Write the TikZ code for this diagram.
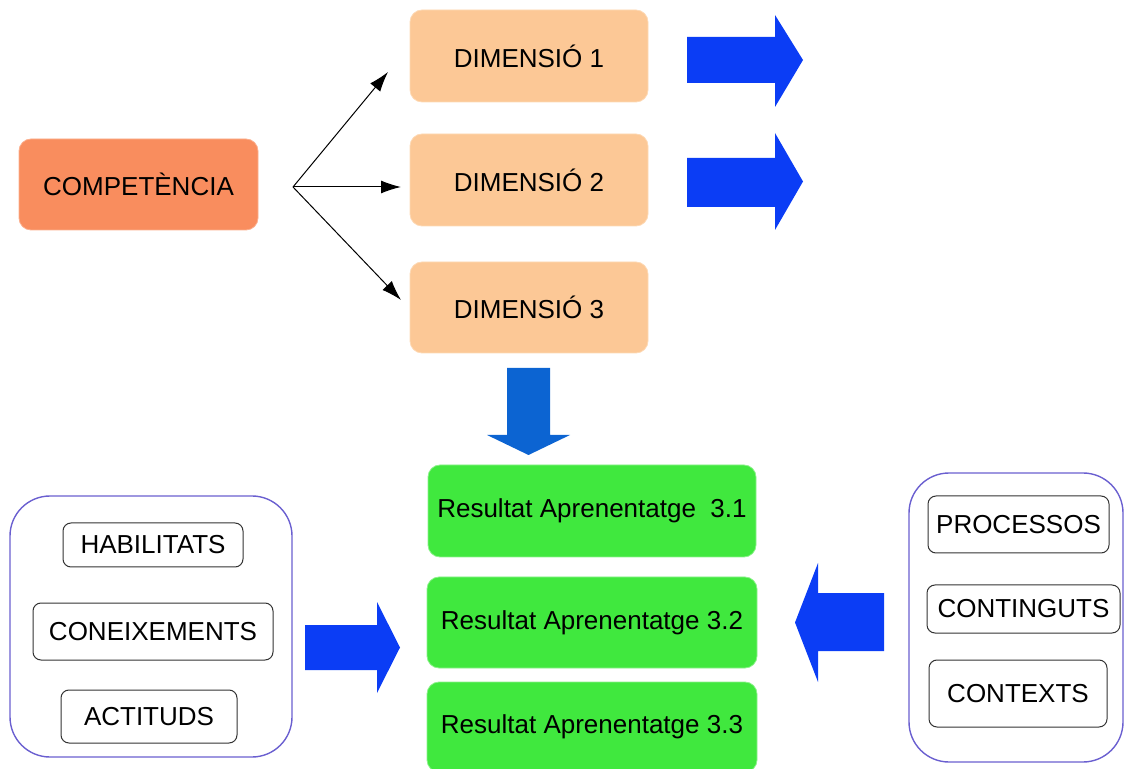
\documentclass[tikz,border=0pt]{standalone}
\usepackage{fontspec}
\setmainfont{Liberation Sans}
\usepackage{tikz}
\usetikzlibrary{arrows.meta,positioning,calc}

\definecolor{coral}{HTML}{F98D5E}
\definecolor{peach}{HTML}{FCC896}
\definecolor{lgreen}{HTML}{40E83E}
\definecolor{bblue}{HTML}{0B3DF5}
\definecolor{dblue}{HTML}{0C64D2}
\definecolor{lilac}{HTML}{6A5FD0}

\begin{document}
\begin{tikzpicture}[x=0.5pt, y=-0.5pt,
            every node/.style={font=\fontsize{13}{15}\selectfont, inner sep=0pt, align=center},
            comp/.style={draw=coral!70, fill=coral, rounded corners=6pt, minimum width=119.5pt, minimum height=45.5pt},
            dim/.style={draw=peach!70, fill=peach, rounded corners=6pt, minimum width=119pt, minimum height=46pt},
            res/.style={draw=lgreen!60, fill=lgreen, rounded corners=6pt, minimum height=46pt},
            group/.style={draw=lilac, line width=0.7pt, rounded corners=20pt},
            item/.style={draw=black!80, line width=0.5pt, rounded corners=4pt},
            thin/.style={->, draw, line width=0.5pt, -{Latex[length=10pt,width=6.5pt]}},
            block/.style={fill=bblue}]
        \useasboundingbox (0,0) rectangle (1124,769);

        % top part
        \node[comp] (comp) at (138.5,184.5) {COMPETÈNCIA};
        \node[dim] (dim1) at (529,56) {DIMENSIÓ 1};
        \node[dim] (dim2) at (529,180) {DIMENSIÓ 2};
        \node[dim, minimum height=45.5pt] (dim3) at (529,307.5) {DIMENSIÓ 3};

        \coordinate (fork) at (293,187);
        \coordinate (t1) at (388,72);
        \coordinate (t2) at (401,187);
        \coordinate (t3) at (401,300);
        \draw[thin] (fork) -- (t1);
        \draw[thin] (fork) -- (t2);
        \draw[thin] (fork) -- (t3);

        \fill[block] (687,37) -- (775,37) -- (775,15) -- (803,60) -- (775,107) -- (775,83) -- (687,83) -- cycle;
        \fill[block] (687,158) -- (775,158) -- (775,133) -- (803,181.5) -- (775,230) -- (775,207) -- (687,207) -- cycle;
        \fill[fill=dblue] (507,368) -- (550,368) -- (550,435) -- (570,435) -- (528.5,455) -- (487,435) -- (507,435) -- cycle;

        % results
        \node[res, minimum width=164pt] (res1) at (592,511) {Resultat Aprenentatge\hspace{0.28em} 3.1};
        \node[res, minimum width=165pt, minimum height=45.5pt] (res2) at (592,622.5) {Resultat Aprenentatge 3.2};
        \node[res, minimum width=165pt, minimum height=45pt] (res3) at (592,727) {Resultat Aprenentatge 3.3};

        % left group
        \node[group, minimum width=141pt, minimum height=130.5pt] (left) at (151,626.5) {};
        \node[item, minimum width=90pt, minimum height=22pt] (hab) at (153,545) {HABILITATS};
        \node[item, minimum width=120pt, minimum height=28.5pt] (con) at (153,631.5) {CONEIXEMENTS};
        \node[item, minimum width=88pt, minimum height=26.5pt] (act) at (149,716.5) {ACTITUDS};
        \fill[block] (305,625) -- (377,625) -- (377,602) -- (400,647.5) -- (377,693) -- (377,670) -- (305,670) -- cycle;

        % right group
        \node[group, minimum width=107pt, minimum height=144.5pt] (right) at (1016,617.5) {};
        \node[item, minimum width=90.5pt, minimum height=28.5pt] (pro) at (1018.5,524.5) {PROCESSOS};
        \node[item, minimum width=96.5pt, minimum height=24pt] (cnt) at (1023.5,609) {CONTINGUTS};
        \node[item, minimum width=89pt, minimum height=33.5pt] (ctx) at (1018,693.5) {CONTEXTS};
        \fill[block] (884,593) -- (818,593) -- (818,563) -- (795,622.5) -- (818,682) -- (818,651) -- (884,651) -- cycle;
\end{tikzpicture}
\end{document}
